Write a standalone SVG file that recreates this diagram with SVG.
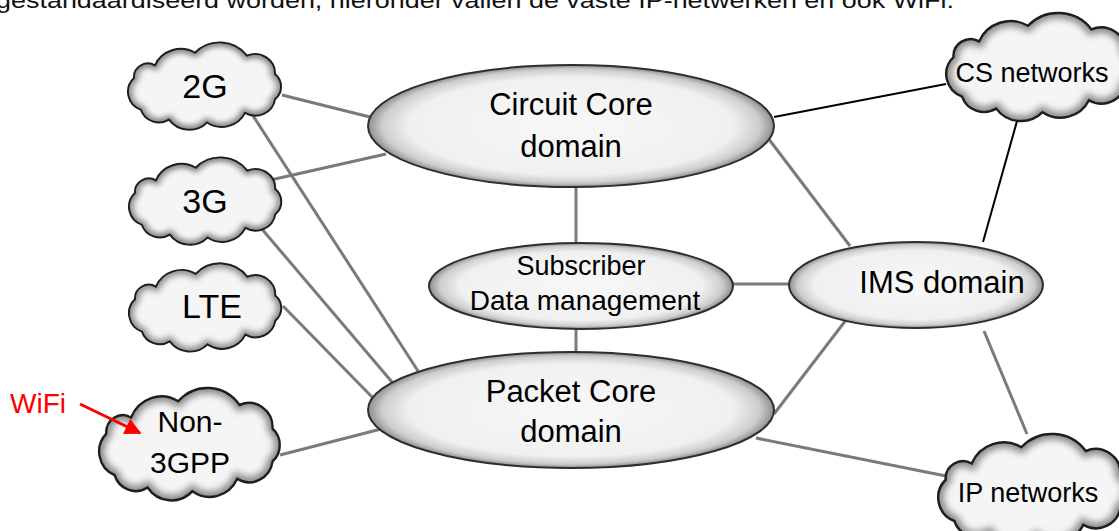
<svg xmlns="http://www.w3.org/2000/svg" width="1119" height="531" viewBox="0 0 1119 531">
  <style>
    .lbl { font-family: "Liberation Sans", Arial, sans-serif; fill: #000; text-anchor: middle; }
    .link { stroke: #7a7a7a; stroke-width: 3; fill: none; }
    .link-dark { stroke: #000; stroke-width: 2; fill: none; }
    .shape { fill: url(#shade); stroke: #2e2e2e; stroke-width: 2; }
    .cloud-fill { fill: #f5f5f5; }
    .cloud-glow { fill: none; stroke: #8a8a8a; stroke-width: 9; filter: url(#soft); }
    .cloud-line { fill: none; stroke: #1e1e1e; stroke-width: 2; vector-effect: non-scaling-stroke; }
  </style>
  <defs>
    <radialGradient id="shade" cx="0.5" cy="0.5" r="0.5">
      <stop offset="0" stop-color="#f8f8f8"/>
      <stop offset="0.8" stop-color="#f0f0f0"/>
      <stop offset="0.93" stop-color="#cdcdcd"/>
      <stop offset="1" stop-color="#8e8e8e"/>
    </radialGradient>
    <filter id="soft" x="-20%" y="-20%" width="140%" height="140%">
      <feGaussianBlur stdDeviation="3"/>
    </filter>
    <!-- generic cloud outline, about 156 x 84 -->
    <path id="cloud" d="M 14,68 A 20 20 0 0 1 7,35 A 14 14 0 0 1 28,22 A 28 28 0 0 1 68,9 A 34 34 0 0 1 120,12 A 20 20 0 0 1 148,31 A 17 17 0 0 1 148,57 A 20 20 0 0 1 118,71 A 26 26 0 0 1 80,81 A 25 25 0 0 1 42,78 A 19 19 0 0 1 14,68 Z"/>
    <clipPath id="cloud-clip">
      <use href="#cloud"/>
    </clipPath>
    <marker id="redhead" viewBox="0 0 10 10" refX="9" refY="5" markerWidth="6" markerHeight="5.5" orient="auto" markerUnits="strokeWidth">
      <path d="M0,0 L10,5 L0,10 Z" fill="#ff0000"/>
    </marker>
  </defs>

  <rect width="1119" height="531" fill="#ffffff"/>

  <!-- running text line at the top edge -->
  <text x="-4" y="8" font-family="Liberation Sans, Arial, sans-serif" font-size="22" fill="#111" textLength="958" lengthAdjust="spacingAndGlyphs">gestandaardiseerd worden, hieronder vallen de vaste IP-netwerken en ook WiFi.</text>

  <!-- connectors -->
  <g id="connectors">
    <line class="link" x1="282" y1="95" x2="370" y2="117"/>
    <line class="link" x1="248" y1="108" x2="418" y2="371"/>
    <line class="link" x1="266" y1="181" x2="386" y2="154"/>
    <line class="link" x1="261" y1="228" x2="392" y2="382"/>
    <line class="link" x1="283" y1="306" x2="373" y2="398"/>
    <line class="link" x1="280" y1="455" x2="385" y2="428"/>
    <line class="link" x1="576" y1="188" x2="576" y2="243"/>
    <line class="link" x1="576" y1="329" x2="576" y2="352"/>
    <line class="link" x1="733" y1="284" x2="790" y2="284"/>
    <line class="link" x1="768" y1="138" x2="850" y2="246"/>
    <line class="link" x1="774" y1="414" x2="846" y2="320"/>
    <line class="link" x1="756" y1="438" x2="951" y2="477"/>
    <line class="link" x1="984" y1="331" x2="1027" y2="434"/>
    <line class="link-dark" x1="774" y1="117" x2="946" y2="84"/>
    <line class="link-dark" x1="1019" y1="114" x2="983" y2="242"/>
  </g>

  <!-- domains -->
  <g id="circuit-core">
    <ellipse class="shape" cx="571" cy="126" rx="203" ry="61"/>
    <text class="lbl" x="571" y="115" font-size="31">Circuit Core</text>
    <text class="lbl" x="571" y="157" font-size="31">domain</text>
  </g>
  <g id="subscriber-data">
    <ellipse class="shape" cx="581" cy="286" rx="152" ry="43"/>
    <text class="lbl" x="581" y="275" font-size="27">Subscriber</text>
    <text class="lbl" x="585" y="310" font-size="28">Data management</text>
  </g>
  <g id="packet-core">
    <ellipse class="shape" cx="571" cy="410" rx="203" ry="58"/>
    <text class="lbl" x="571" y="402" font-size="31">Packet Core</text>
    <text class="lbl" x="571" y="442" font-size="31">domain</text>
  </g>
  <g id="ims">
    <ellipse class="shape" cx="916" cy="285" rx="127" ry="43"/>
    <text class="lbl" x="942" y="293" font-size="31">IMS domain</text>
  </g>

  <!-- access networks -->
  <g id="net-2g">
    <g transform="translate(127,44) scale(1,0.97)">
      <use href="#cloud" class="cloud-fill"/>
      <g clip-path="url(#cloud-clip)"><use href="#cloud" class="cloud-glow"/></g>
      <use href="#cloud" class="cloud-line"/>
    </g>
    <text class="lbl" x="205" y="98" font-size="34">2G</text>
  </g>
  <g id="net-3g">
    <g transform="translate(128,159) scale(0.995,0.97)">
      <use href="#cloud" class="cloud-fill"/>
      <g clip-path="url(#cloud-clip)"><use href="#cloud" class="cloud-glow"/></g>
      <use href="#cloud" class="cloud-line"/>
    </g>
    <text class="lbl" x="205" y="213" font-size="34">3G</text>
  </g>
  <g id="net-lte">
    <g transform="translate(128,265) scale(0.995,0.98)">
      <use href="#cloud" class="cloud-fill"/>
      <g clip-path="url(#cloud-clip)"><use href="#cloud" class="cloud-glow"/></g>
      <use href="#cloud" class="cloud-line"/>
    </g>
    <text class="lbl" x="212" y="318" font-size="34">LTE</text>
  </g>
  <g id="net-non3gpp">
    <g transform="translate(98,390) scale(1.18,1.25)">
      <use href="#cloud" class="cloud-fill"/>
      <g clip-path="url(#cloud-clip)"><use href="#cloud" class="cloud-glow"/></g>
      <use href="#cloud" class="cloud-line"/>
    </g>
    <text class="lbl" x="190" y="432" font-size="30">Non-</text>
    <text class="lbl" x="190" y="473" font-size="30">3GPP</text>
  </g>

  <!-- external networks -->
  <g id="cs-networks">
    <g transform="translate(945,15) scale(1.22,1.2)">
      <use href="#cloud" class="cloud-fill"/>
      <g clip-path="url(#cloud-clip)"><use href="#cloud" class="cloud-glow"/></g>
      <use href="#cloud" class="cloud-line"/>
    </g>
    <text class="lbl" x="1032" y="82" font-size="27">CS networks</text>
  </g>
  <g id="ip-networks">
    <g transform="translate(937,436) scale(1.24,1.25)">
      <use href="#cloud" class="cloud-fill"/>
      <g clip-path="url(#cloud-clip)"><use href="#cloud" class="cloud-glow"/></g>
      <use href="#cloud" class="cloud-line"/>
    </g>
    <text class="lbl" x="1028" y="502" font-size="27">IP networks</text>
  </g>

  <!-- WiFi annotation -->
  <g id="wifi-note">
    <text x="10" y="413" font-family="Liberation Sans, Arial, sans-serif" font-size="28" fill="#ff0000">WiFi</text>
    <line x1="80" y1="404" x2="140" y2="433" stroke="#ff0000" stroke-width="3" marker-end="url(#redhead)"/>
  </g>
</svg>
